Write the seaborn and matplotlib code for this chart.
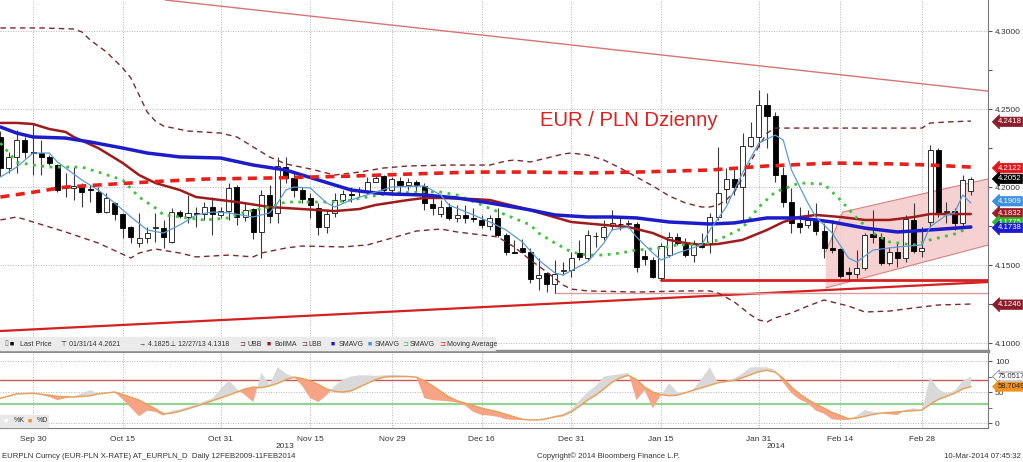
"""EUR/PLN daily candles with Bollinger bands, moving averages and stochastics."""
import matplotlib
matplotlib.use("Agg")
import matplotlib.pyplot as plt
from matplotlib.patches import Rectangle
import numpy as np
import pandas as pd
import seaborn as sns

dates = pd.bdate_range("2013-09-24", "2014-03-10")

open_ = [4.2323, 4.2120, 4.2195, 4.2302, 4.2222, 4.2220, 4.2195, 4.2141, 4.1995, 4.1995,
         4.2002, 4.1985, 4.1970, 4.1842, 4.1896, 4.1827, 4.1746, 4.1643, 4.1671, 4.1738,
         4.1735, 4.1650, 4.1838, 4.1810, 4.1834, 4.1827, 4.1870, 4.1821, 4.1848, 4.2002,
         4.1806, 4.1857, 4.1714, 4.1949, 4.1832, 4.2131, 4.2056, 4.1981, 4.1928, 4.1864,
         4.1746, 4.1832, 4.1920, 4.1958, 4.1972, 4.1976, 4.2034, 4.2071, 4.1981, 4.2041,
         4.2013, 4.2030, 4.2007, 4.1891, 4.1830, 4.1874, 4.1800, 4.1821, 4.1802, 4.1789,
         4.1750, 4.1800, 4.1693, 4.1585, 4.1607, 4.1586, 4.1416, 4.1447, 4.1379, 4.1462,
         4.1468, 4.1575, 4.1543, 4.1684, 4.1678, 4.1750, 4.1765, 4.1766, 4.1763, 4.1560,
         4.1532, 4.1415, 4.1564, 4.1682, 4.1643, 4.1564, 4.1639, 4.1639, 4.1810, 4.1985,
         4.2050, 4.1999, 4.2263, 4.2323, 4.2526, 4.2455, 4.2077, 4.1906, 4.1771, 4.1757,
         4.1789, 4.1720, 4.1607, 4.1600, 4.1457, 4.1441, 4.1479, 4.1699, 4.1682, 4.1515,
         4.1586, 4.1543, 4.1789, 4.1592, 4.1778, 4.2237, 4.1838, 4.1848, 4.1768, 4.1975]
high = [4.2360, 4.2227, 4.2366, 4.2322, 4.2408, 4.2301, 4.2207, 4.2150, 4.2088, 4.2130,
        4.2025, 4.2013, 4.2002, 4.1960, 4.1905, 4.1835, 4.1750, 4.1832, 4.1746, 4.1832,
        4.1789, 4.1864, 4.1853, 4.1949, 4.1874, 4.1906, 4.1938, 4.1874, 4.2024, 4.2013,
        4.1895, 4.1864, 4.1981, 4.2013, 4.2195, 4.2195, 4.2093, 4.2002, 4.1960, 4.1896,
        4.1853, 4.1960, 4.1981, 4.2002, 4.2002, 4.2066, 4.2077, 4.2077, 4.2066, 4.2066,
        4.2055, 4.2045, 4.2024, 4.1938, 4.1917, 4.1896, 4.1885, 4.1885, 4.1864, 4.1821,
        4.1821, 4.1864, 4.1703, 4.1660, 4.1670, 4.1607, 4.1543, 4.1457, 4.1532, 4.1521,
        4.1586, 4.1660, 4.1724, 4.1714, 4.1789, 4.1853, 4.1799, 4.1789, 4.1778, 4.1596,
        4.1553, 4.1639, 4.1714, 4.1703, 4.1671, 4.1660, 4.1703, 4.1832, 4.2259, 4.2120,
        4.2120, 4.2344, 4.2419, 4.2621, 4.2601, 4.2483, 4.2130, 4.1992, 4.1874, 4.1853,
        4.1896, 4.1767, 4.1789, 4.1607, 4.1489, 4.1596, 4.1703, 4.1853, 4.1703, 4.1617,
        4.1639, 4.1821, 4.1896, 4.1746, 4.2269, 4.2250, 4.1906, 4.1864, 4.2077, 4.2066]
low = [4.2070, 4.2088, 4.2090, 4.2185, 4.2077, 4.2077, 4.2140, 4.1967, 4.1938, 4.1917,
       4.1874, 4.1906, 4.1832, 4.1832, 4.1789, 4.1672, 4.1639, 4.1618, 4.1639, 4.1650,
       4.1607, 4.1639, 4.1800, 4.1768, 4.1746, 4.1789, 4.1693, 4.1799, 4.1789, 4.1757,
       4.1782, 4.1665, 4.1543, 4.1770, 4.1768, 4.2024, 4.1938, 4.1896, 4.1800, 4.1693,
       4.1703, 4.1810, 4.1905, 4.1906, 4.1938, 4.1960, 4.2030, 4.1970, 4.1949, 4.1949,
       4.1981, 4.1960, 4.1853, 4.1821, 4.1810, 4.1789, 4.1778, 4.1768, 4.1778, 4.1735,
       4.1725, 4.1682, 4.1565, 4.1575, 4.1575, 4.1383, 4.1340, 4.1330, 4.1318, 4.1436,
       4.1425, 4.1532, 4.1532, 4.1618, 4.1660, 4.1724, 4.1724, 4.1746, 4.1457, 4.1500,
       4.1415, 4.1404, 4.1553, 4.1628, 4.1553, 4.1521, 4.1610, 4.1575, 4.1789, 4.1896,
       4.1949, 4.1778, 4.2259, 4.2259, 4.2248, 4.2034, 4.1874, 4.1703, 4.1703, 4.1735,
       4.1693, 4.1543, 4.1575, 4.1417, 4.1404, 4.1415, 4.1468, 4.1639, 4.1500, 4.1500,
       4.1489, 4.1521, 4.1575, 4.1553, 4.1746, 4.1810, 4.1768, 4.1724, 4.1746, 4.1949]
close = [4.2120, 4.2195, 4.2302, 4.2227, 4.2218, 4.2195, 4.2152, 4.1981, 4.2005, 4.2008,
         4.1970, 4.1978, 4.1842, 4.1928, 4.1827, 4.1735, 4.1682, 4.1671, 4.1703, 4.1742,
         4.1682, 4.1842, 4.1814, 4.1832, 4.1830, 4.1870, 4.1827, 4.1848, 4.1992, 4.1806,
         4.1853, 4.1714, 4.1949, 4.1814, 4.2135, 4.2056, 4.1981, 4.1922, 4.1885, 4.1742,
         4.1827, 4.1917, 4.1955, 4.1950, 4.1976, 4.2034, 4.2056, 4.1981, 4.2050, 4.2013,
         4.2030, 4.2013, 4.1896, 4.1864, 4.1870, 4.1800, 4.1821, 4.1800, 4.1798, 4.1757,
         4.1800, 4.1693, 4.1586, 4.1580, 4.1582, 4.1409, 4.1436, 4.1379, 4.1443, 4.1466,
         4.1543, 4.1553, 4.1693, 4.1688, 4.1746, 4.1771, 4.1761, 4.1770, 4.1489, 4.1537,
         4.1421, 4.1624, 4.1682, 4.1639, 4.1564, 4.1639, 4.1618, 4.1810, 4.1960, 4.2050,
         4.1999, 4.2263, 4.2323, 4.2526, 4.2455, 4.2077, 4.1906, 4.1768, 4.1746, 4.1789,
         4.1720, 4.1607, 4.1596, 4.1430, 4.1441, 4.1479, 4.1693, 4.1682, 4.1515, 4.1586,
         4.1543, 4.1793, 4.1592, 4.1607, 4.2237, 4.1832, 4.1845, 4.1768, 4.2045, 4.2052]

# Bollinger bands (upper, middle, lower), read at selected trading days
ubb_idx = [0, 5, 9, 10, 11, 13, 15, 16, 17, 18, 19, 20, 23, 27, 29, 31, 33, 35, 38, 41,
           44, 47, 50, 55, 60, 62, 63, 65, 67, 69, 70, 72, 74, 76, 78, 80, 82, 84, 86, 87,
           88, 89, 90, 91, 92, 93, 94, 95, 100, 110, 113, 114, 116, 119]
ubb = [4.3020, 4.3020, 4.3013, 4.2994, 4.2943, 4.2866, 4.2763, 4.2699, 4.2590, 4.2481,
       4.2423, 4.2391, 4.2359, 4.2346, 4.2321, 4.2257, 4.2193, 4.2148, 4.2116, 4.2077,
       4.2096, 4.2122, 4.2135, 4.2141, 4.2141, 4.2167, 4.2173, 4.2161, 4.2186, 4.2212,
       4.2218, 4.2205, 4.2173, 4.2122, 4.2064, 4.2007, 4.1943, 4.1898, 4.1872, 4.1872,
       4.1885, 4.1917, 4.1968, 4.2058, 4.2161, 4.2263, 4.2346, 4.2378, 4.2378, 4.2378,
       4.2378, 4.2410, 4.2417, 4.2423]
lbb_idx = [0, 2, 4, 8, 12, 16, 17, 19, 22, 24, 28, 31, 32, 35, 37, 42, 45, 48, 51, 54,
           56, 59, 61, 63, 65, 67, 69, 70, 72, 78, 84, 87, 88, 90, 92, 93, 94, 95, 97, 99,
           101, 103, 104, 106, 109, 112, 115, 119]
lbb = [4.1789, 4.1808, 4.1776, 4.1712, 4.1641, 4.1545, 4.1577, 4.1603, 4.1577, 4.1552,
       4.1564, 4.1552, 4.1577, 4.1609, 4.1622, 4.1616, 4.1629, 4.1673, 4.1718, 4.1731,
       4.1712, 4.1693, 4.1680, 4.1616, 4.1532, 4.1455, 4.1372, 4.1346, 4.1334, 4.1327,
       4.1334, 4.1334, 4.1321, 4.1263, 4.1180, 4.1148, 4.1135, 4.1161, 4.1193, 4.1237,
       4.1276, 4.1250, 4.1237, 4.1199, 4.1205, 4.1225, 4.1244, 4.1250]
bollma_idx = [0, 2, 4, 6, 8, 9, 12, 15, 17, 19, 22, 24, 29, 33, 37, 41, 44, 46, 50, 52,
              54, 58, 60, 62, 64, 67, 70, 74, 77, 80, 82, 84, 86, 88, 91, 94, 96, 98, 100, 103,
              106, 109, 112, 114, 119]
bollma = [4.2411, 4.2411, 4.2404, 4.2372, 4.2353, 4.2321, 4.2250, 4.2154, 4.2077, 4.2026,
          4.1981, 4.1936, 4.1904, 4.1872, 4.1859, 4.1846, 4.1859, 4.1885, 4.1917, 4.1930,
          4.1930, 4.1923, 4.1917, 4.1891, 4.1866, 4.1821, 4.1776, 4.1757, 4.1744, 4.1705,
          4.1661, 4.1641, 4.1629, 4.1635, 4.1661, 4.1725, 4.1776, 4.1808, 4.1821, 4.1808,
          4.1789, 4.1789, 4.1808, 4.1827, 4.1827]

# moving averages
sma_blue_idx = [0, 2, 4, 8, 11, 15, 18, 22, 27, 31, 35, 39, 43, 46, 48, 52, 56, 60, 65, 68,
                72, 75, 78, 82, 87, 90, 94, 98, 102, 106, 110, 114, 119]
sma_blue = [4.2385, 4.2346, 4.2321, 4.2314, 4.2289, 4.2250, 4.2218, 4.2193, 4.2186, 4.2141,
            4.2109, 4.2045, 4.1981, 4.1962, 4.1955, 4.1949, 4.1930, 4.1898, 4.1853, 4.1821,
            4.1808, 4.1808, 4.1802, 4.1776, 4.1763, 4.1770, 4.1802, 4.1802, 4.1776, 4.1737,
            4.1712, 4.1725, 4.1744]
sma_light_idx = [0, 2, 4, 6, 7, 10, 12, 14, 16, 18, 20, 22, 24, 26, 28, 31, 33, 34, 35, 36,
                 38, 40, 41, 43, 46, 48, 52, 54, 55, 58, 60, 62, 64, 66, 68, 69, 72, 74, 75, 77,
                 78, 80, 81, 83, 86, 87, 89, 91, 93, 95, 96, 97, 99, 100, 102, 104, 105, 107, 110, 113,
                 114, 116, 117, 118, 119]
sma_light = [4.2064, 4.2128, 4.2218, 4.2218, 4.2160, 4.2045, 4.1981, 4.1898, 4.1808, 4.1725,
             4.1705, 4.1757, 4.1821, 4.1840, 4.1834, 4.1808, 4.1834, 4.1898, 4.1981, 4.2000,
             4.1994, 4.1898, 4.1872, 4.1917, 4.1968, 4.2000, 4.2007, 4.1949, 4.1885, 4.1821,
             4.1776, 4.1725, 4.1648, 4.1532, 4.1449, 4.1436, 4.1520, 4.1641, 4.1725, 4.1744,
             4.1680, 4.1577, 4.1532, 4.1577, 4.1629, 4.1725, 4.1872, 4.2090, 4.2282, 4.2333,
             4.2301, 4.2109, 4.1898, 4.1808, 4.1705, 4.1545, 4.1520, 4.1596, 4.1616, 4.1629,
             4.1744, 4.1821, 4.1834, 4.1949, 4.1898]
sma_green_idx = [0, 2, 4, 6, 10, 12, 15, 17, 19, 20, 23, 25, 28, 30, 33, 35, 38, 41, 43, 45,
                 48, 52, 54, 56, 59, 62, 65, 66, 68, 70, 72, 74, 76, 78, 81, 83, 86, 88, 91, 93,
                 95, 98, 101, 103, 105, 107, 109, 112, 114, 117, 119]
sma_green = [4.2282, 4.2160, 4.2141, 4.2128, 4.2128, 4.2096, 4.2045, 4.1936, 4.1866, 4.1821,
             4.1802, 4.1789, 4.1802, 4.1840, 4.1872, 4.1904, 4.1904, 4.1904, 4.1917, 4.1936,
             4.1962, 4.1968, 4.1968, 4.1949, 4.1885, 4.1821, 4.1757, 4.1705, 4.1641, 4.1584,
             4.1564, 4.1564, 4.1577, 4.1596, 4.1609, 4.1629, 4.1629, 4.1661, 4.1737, 4.1872,
             4.1968, 4.2026, 4.2019, 4.1917, 4.1802, 4.1705, 4.1648, 4.1629, 4.1661, 4.1699,
             4.1744]
ma_red_idx = [0, 4, 8, 12, 16, 20, 25, 33, 43, 50, 58, 65, 72, 78, 87, 94, 102, 110, 114, 119]
ma_red = [4.1936, 4.1967, 4.2000, 4.2013, 4.2026, 4.2038, 4.2051, 4.2058, 4.2070, 4.2083,
          4.2096, 4.2096, 4.2090, 4.2096, 4.2109, 4.2135, 4.2154, 4.2148, 4.2141, 4.2128]

# hand-drawn trend lines, support levels and channel (trading-day index, price)
trend_hi_idx = [20.2, 121.1]
trend_hi = [4.3199, 4.2615]
trend_lo_idx = [-0.05, 121.1]
trend_lo = [4.1077, 4.1391]
support_a_idx = [81, 121.1]
support_a = [4.1404, 4.1404]
support_b_idx = [68, 121.1]
support_b = [4.1318, 4.1318]
channel_idx = [101.2, 101.2, 103.3, 121.1, 121.1]
channel_px = [4.1353, 4.1584, 4.1840, 4.2052, 4.1628]

# slow stochastics
stoch_idx = [0, 2, 4, 6, 7, 9, 11, 12, 14, 15, 17, 18, 19, 20, 21, 22, 24, 26, 28, 29,
             30, 31, 32, 33, 34, 35, 36, 37, 38, 39, 40, 41, 42, 43, 44, 45, 46, 47, 48, 50,
             51, 52, 53] + list(range(55, 120))
stoch_d = [40, 47, 48, 45, 43, 42, 44, 47, 50, 46, 37, 30, 23, 15, 16, 19, 27, 36, 45, 50,
           55, 58, 57, 60, 64, 70, 74, 72, 68, 62, 55, 51, 50, 52, 58, 64, 70, 74, 75, 75,
           74, 68, 60, 42, 36, 32, 28, 24, 21, 18, 14, 10, 6, 5, 5, 7, 10, 12, 18, 27,
           37, 45, 55, 66, 73, 77, 70, 58, 50, 46, 44, 45, 49, 53, 57, 61, 65, 67, 69, 73,
           78, 83, 85, 82, 72, 58, 47, 38, 30, 24, 17, 12, 7, 8, 11, 14, 16, 17, 18, 19,
           20, 21, 30, 38, 43, 48, 55, 58.7049]
stoch_k = [40, 48, 49, 42, 37, 43, 53, 48, 50, 38, 11, 20, 18, 12, 20, 22, 30, 40, 69, 55,
           45, 34, 81, 62, 90, 80, 74, 60, 40, 34, 45, 60, 70, 75, 77, 77, 76, 77, 78, 76,
           74, 40, 37, 35, 33, 28, 18, 13, 12, 10, 6, 5, 5, 5, 6, 8, 12, 15, 22, 36,
           50, 60, 75, 77, 79, 81, 37, 53, 24, 45, 64, 50, 48, 55, 72, 90, 65, 68, 72, 80,
           90, 90, 90, 86, 65, 48, 38, 32, 20, 15, 6, 5, 5, 12, 21, 18, 16, 14, 13, 22,
           24, 20, 74, 55, 48, 52, 68, 75.0517]

label_days = ["2013-09-30", "2013-10-15", "2013-10-31", "2013-11-15", "2013-11-29", "2013-12-16",
              "2013-12-31", "2014-01-15", "2014-01-31", "2014-02-14", "2014-02-28"]

# right-hand value tags: (price, text, colour)
price_tags = [(4.2418, "4.2418", "#8b1c2b"), (4.2122, "4.2122", "#e3151a"),
              (4.2052, "4.2052", "#000000"), (4.1909, "4.1909", "#3d8fe0"),
              (4.1832, "4.1832", "#9c1c24"), (4.1775, "4.1775", "#2fb82f"),
              (4.1738, "4.1738", "#1a1ad0"), (4.1246, "4.1246", "#8b1c2b")]

W, H = 1023, 462
sns.set_style("white")
plt.rcParams["font.family"] = ["Liberation Sans", "DejaVu Sans"]
TXT = "#333333"
GRID = dict(color="#b3b3b3", lw=0.7, linestyle=(0, (1, 1.6)))
TAG_X = 1.0095

fig = plt.figure(figsize=(W / 100, H / 100), dpi=100)
ax = fig.add_axes([0, 1 - 351 / H, 988 / W, 351 / H])
axs = fig.add_axes([0, 1 - 428 / H, 988 / W, 75 / H])

idx = np.arange(len(dates))
pos = [dates.get_loc(pd.Timestamp(d)) for d in label_days]
names = [pd.Timestamp(d).strftime("%b %d") for d in label_days]
minor = [(a + b) / 2 for a, b in zip(pos[:-1], pos[1:])] + [pos[-1] + 5.5]

# --- price panel ---
ax.fill(channel_idx, channel_px, color="#f5c9c9", alpha=0.85, lw=0, zorder=1)
ax.plot(channel_idx[1:4], channel_px[1:4], color="#d98080", lw=0.8, zorder=1.5)
ax.plot([channel_idx[0], channel_idx[4]], [channel_px[0], channel_px[4]], color="#d98080", lw=0.8, zorder=1.5)
ax.plot(trend_hi_idx, trend_hi, color="#d87474", lw=1.0, zorder=2)
ax.plot(trend_lo_idx, trend_lo, color="#d42020", lw=1.6, zorder=2)
ax.plot(support_a_idx, support_a, color="#d42020", lw=2.0, zorder=2)
ax.plot(support_b_idx, support_b, color="#e09a9a", lw=1.0, zorder=2)

o, h, l, c = map(np.array, (open_, high, low, close))
up = c >= o
body = np.maximum(np.abs(c - o), 0.0003)
ax.vlines(idx, l, h, color="#3a3a3a", lw=0.8, zorder=3)
ax.bar(idx[up], body[up], bottom=o[up], width=0.62, color="white", edgecolor="#111111", lw=0.6, zorder=3.5)
ax.bar(idx[~up], body[~up], bottom=c[~up], width=0.62, color="black", edgecolor="black", lw=0.6, zorder=3.5)

series = [
    (ubb_idx, ubb, "#7a2a2a", 1.0, (0, (4, 3))),
    (lbb_idx, lbb, "#7a2a2a", 1.0, (0, (4, 3))),
    (bollma_idx, bollma, "#9e1b1b", 1.8, "-"),
    (sma_green_idx, sma_green, "#3cc43c", 2.0, (0, (1, 2))),
    (sma_blue_idx, sma_blue, "#1c1cc8", 2.5, "-"),
    (sma_light_idx, sma_light, "#5b9bd5", 0.9, "-"),
    (ma_red_idx, ma_red, "#e8201c", 2.6, (0, (2.5, 1.8))),
]
for x, y, col, lw, ls in series:
    sns.lineplot(x=x, y=y, ax=ax, color=col, lw=lw, linestyle=ls, estimator=None,
                 sort=False, legend=False, zorder=4)

ax.set_xlim(-0.05, 121.1)
ax.set_ylim(4.0949, 4.3199)
ax.set_xticks(pos)
ax.tick_params(axis="x", length=0, labelbottom=False)
ax.yaxis.tick_right()
ax.set_yticks([4.10, 4.15, 4.20, 4.25, 4.30])
ax.set_yticklabels([f"{v:.4f}" for v in [4.10, 4.15, 4.20, 4.25, 4.30]])
ax.set_yticks([4.125, 4.175, 4.225, 4.275], minor=True)
ax.tick_params(axis="y", which="both", direction="out", length=3, width=0.8, color="#555555",
               labelsize=6, labelcolor=TXT, pad=2)
ax.grid(True, **GRID)
for s in ("top", "left"):
    ax.spines[s].set_visible(False)
ax.spines["right"].set_color("#7a7a7a")
ax.spines["bottom"].set_color("#8c8c8c")
ax.spines["bottom"].set_linewidth(2.5)
ax.set_xlabel("")
ax.set_ylabel("")

ax.text(540 / 988, 1 - 121 / 351, "EUR / PLN Dzienny", transform=ax.transAxes, color="#e0201e",
        fontsize=14.6, va="center", ha="left", zorder=6)

for val, txt, col in price_tags:
    ax.text(TAG_X, val, txt, transform=ax.get_yaxis_transform(), fontsize=5.6, color="white",
            va="center", ha="left", clip_on=False, zorder=10,
            bbox=dict(boxstyle="larrow,pad=0.16", fc=col, ec=col, lw=0.5))

# legend strip of the price panel
ax.add_patch(Rectangle((0, 1 - 350 / H), 495 / W, 13 / H, transform=fig.transFigure,
                       color="#ebebeb", clip_on=False, zorder=7))
ly = 1 - 344 / H
legend_items = [
    (4, "▯", "#666666"), (10, "■", "#000000"), (20, "Last Price", TXT),
    (61, "⊤ 01/31/14 4.2621", TXT), (139, "→ 4.1825", TXT), (170, "⊥ 12/27/13 4.1318", TXT),
    (239, "⊐", "#7a2a2a"), (247, "UBB", TXT), (267, "■", "#9e1b1b"), (274, "BollMA", TXT),
    (301, "⊐", "#7a2a2a"), (308, "LBB", TXT), (331, "■", "#1c1cc8"), (339, "SMAVG", TXT),
    (368, "■", "#3d8fe0"), (375, "SMAVG", TXT), (402, "⊐", "#3cc43c"), (410, "SMAVG", TXT),
    (439, "⊐", "#e8201c"), (447, "Moving Average", TXT),
]
for x, txt, col in legend_items:
    fig.text(x / W, ly, txt, fontsize=5.0, color=col, va="center", ha="left", zorder=8)

# --- stochastics panel ---
si, sk, sd = np.array(stoch_idx), np.array(stoch_k), np.array(stoch_d)
axs.fill_between(si, sd, sk, where=sk >= sd, interpolate=True, color="#d9d9d9", lw=0, zorder=2)
axs.fill_between(si, sd, sk, where=sk < sd, interpolate=True, color="#f6a485", lw=0, zorder=2)
axs.axhline(70, color="#c65a5a", lw=1.0, zorder=1.5)
axs.axhline(30, color="#93d493", lw=1.6, zorder=1.5)
sns.lineplot(x=si, y=sd, ax=axs, color="#e6a25c", lw=1.1, estimator=None, sort=False,
             legend=False, zorder=3)
axs.set_xlim(-0.05, 121.1)
axs.set_ylim(-8, 113)
axs.set_xticks(pos)
axs.set_xticklabels(names)
axs.set_xticks(minor, minor=True)
axs.tick_params(axis="x", which="both", direction="out", length=3, color="#555555",
                labelsize=6, labelcolor=TXT, pad=3)
axs.yaxis.tick_right()
axs.set_yticks([0, 50, 100])
axs.set_yticks([25, 75], minor=True)
axs.tick_params(axis="y", which="both", direction="out", length=3, color="#555555",
                labelsize=6, labelcolor=TXT, pad=2)
axs.grid(True, **GRID)
axs.spines["top"].set_visible(False)
axs.spines["left"].set_visible(False)
axs.spines["right"].set_color("#7a7a7a")
axs.spines["bottom"].set_color("#7a7a7a")
axs.set_xlabel("")
axs.set_ylabel("")

for val, txt, fc, tc, ec in [(75.0517, "75.0517", "white", TXT, "#888888"),
                             (58.7049, "58.7049", "#f0901e", "#222222", "#f0901e")]:
    axs.text(TAG_X, val, txt, transform=axs.get_yaxis_transform(), fontsize=5.4, color=tc,
             va="center", ha="left", clip_on=False, zorder=10,
             bbox=dict(boxstyle="larrow,pad=0.13", fc=fc, ec=ec, lw=0.6))

axs.add_patch(Rectangle((0, 1 - 427 / H), 48 / W, 12 / H, transform=fig.transFigure,
                        color="#e8e8e8", clip_on=False, zorder=7))
ky = 1 - 421 / H
for x, txt, col in [(4, "■", "white"), (14, "%K", TXT), (28, "■", "#f0901e"), (37, "%D", TXT)]:
    fig.text(x / W, ky, txt, fontsize=5.0, color=col, va="center", ha="left", zorder=8)

# years and footer
fig.text(285 / W, 1 - 447 / H, "2013", fontsize=6, color=TXT, ha="center", va="center")
fig.text(776 / W, 1 - 447 / H, "2014", fontsize=6, color=TXT, ha="center", va="center")
fy = 1 - 456 / H
fig.text(2 / W, fy, "EURPLN Curncy (EUR-PLN X-RATE) AT_EURPLN_D  Daily 12FEB2009-11FEB2014",
         fontsize=5.6, color=TXT, ha="left", va="center")
fig.text(608 / W, fy, "Copyright© 2014 Bloomberg Finance L.P.", fontsize=5.6, color=TXT,
         ha="center", va="center")
fig.text(1021 / W, fy, "10-Mar-2014 07:45:32", fontsize=5.6, color=TXT, ha="right", va="center")

fig.savefig("out.png", dpi=100)
